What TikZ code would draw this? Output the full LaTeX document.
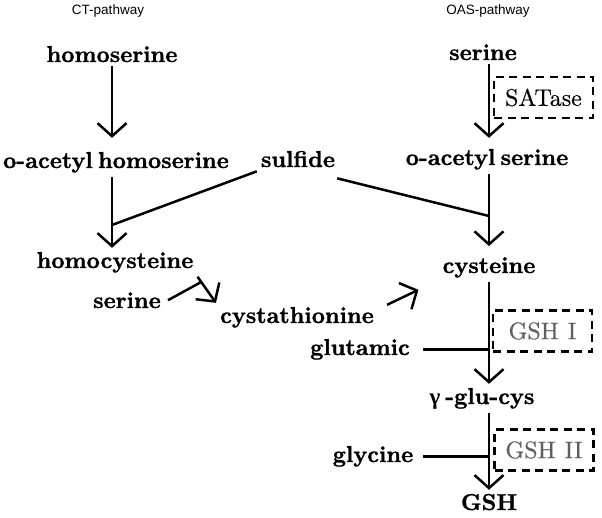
\documentclass[tikz,border=0pt]{standalone}
\usepackage{fontspec}
\usepackage{tikz}
\usetikzlibrary{arrows.meta, calc}
\newfontfamily\pathfont{Liberation Sans}
\newfontfamily\greekfont{Liberation Serif}
\newfontfamily\cmpdfont{lmroman10-bold}[Extension=.otf, FakeBold=1.2, WordSpace=0.6]
\newfontfamily\enzfont{lmroman10-regular}[Extension=.otf, FakeBold=0.4]
\definecolor{enzgray}{RGB}{95,95,95}
\tikzset{
  %% ---- texts ----
  cmpd/.style    = {inner sep=4pt, anchor=base,
                    font=\cmpdfont\fontsize{23}{26}\selectfont},
  pathlbl/.style = {inner sep=0pt, font=\pathfont\fontsize{13.5}{15}\selectfont},
  %% ---- enzyme boxes ----
  enzyme/.style  = {rectangle, draw=black, line width=2.6pt,
                    dash pattern=on 8pt off 5.5pt,
                    minimum width=99pt, minimum height=41pt, inner sep=0pt,
                    text=#1, font=\enzfont\fontsize{24}{26}\selectfont},
  enzyme/.default = black,
  %% ---- arrows ----
  arr/.style     = {-{Straight Barb[length=13pt,width=29pt]},
                    line width=2.5pt, shorten >=#1},
  arr/.default   = 0pt,
  ln/.style      = {line width=2.5pt},
}

\begin{document}
\begin{tikzpicture}[x=1pt, y=-1pt]
\useasboundingbox (0,0) rectangle (602,518);
%% pathway titles
\node[pathlbl] (ctlab)  at (108,11) {CT-pathway};
\node[pathlbl] (oaslab) at (488,11) {OAS-pathway};
%% CT-pathway
\node[cmpd] (hser)   at (112,62)  {homoserine};
\node[cmpd] (oahser) at (116,168) {o-acetyl homoserine};
\node[cmpd] (sulf)   at (298,167) {sulfide};
\node[cmpd] (hcys)   at (115,268) {homocysteine};
\node[cmpd] (serl)   at (127,308) {serine};
\node[cmpd] (cysta)  at (297,323) {cystathionine};
%% OAS-pathway
\node[cmpd] (sser)    at (483,60)  {serine};
\node[cmpd] (oaser)   at (487,165) {o-acetyl serine};
\node[cmpd] (cys)     at (489,273) {cysteine};
\node[cmpd] (glu)     at (360,355) {glutamic};
\node[cmpd] (gglucys) at (482,404) {{\greekfont\bfseries γ}\hspace{5pt}-glu-cys};
\node[cmpd] (gly)     at (373,462) {glycine};
\node[cmpd] (gsh)     at (489,510) {GSH};
%% enzymes
\node[enzyme]          (satase) at (543.5,97.5) {SATase};
\node[enzyme=enzgray]  (gshone) at (542.5,331)  {GSH\hspace{9pt}I};
\node[enzyme=enzgray]  (gshtwo) at (544,450)    {GSH\hspace{9pt}II};
%% join points
\coordinate (jl) at (112,225);
\coordinate (jr) at (489,216);
\coordinate (js) at ($(hcys.south east)!0.2!(cysta.north west)$);

\draw[arr=10pt] (hser) -- (hser |- oahser.north);
\draw[arr] (hser |- oahser.south) -- (hser |- hcys.north);
\draw[ln]  (sulf.south west) -- (jl);
\draw[ln]  ([xshift=-2pt,yshift=-7pt]sulf.south east) -- (jr);
\draw[arr] (hcys.south east) -- (cysta.north west);
\draw[ln]  ([xshift=3pt]serl.east) -- (js);
\draw[arr] ([xshift=9pt,yshift=-2pt]cysta.north east) -- ([xshift=-20pt,yshift=-8pt]cys.south west);

\draw[arr=7pt] (sser.south -| cys) -- (cys |- oaser.north);
\draw[arr=7pt] (cys |- oaser.south) -- (cys);
\draw[arr] (cys) -- (cys |- gglucys.north);
\draw[ln]  ([xshift=9pt]glu.east) -- (glu.east -| cys);
\draw[arr] (gglucys.south -| gsh) -- (gsh);
\draw[ln]  ([xshift=6pt]gly.east) -- (gly.east -| gsh);
\end{tikzpicture}
\end{document}
